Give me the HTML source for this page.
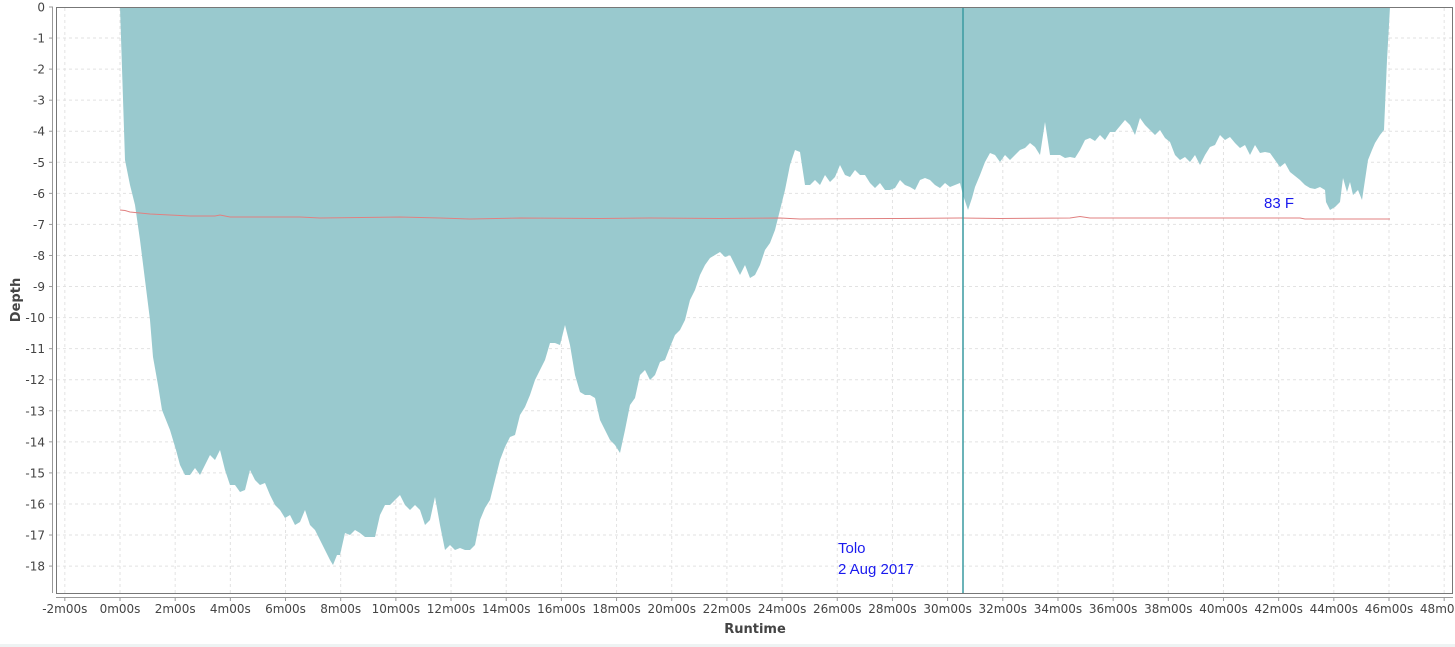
<!DOCTYPE html>
<html><head><meta charset="utf-8">
<style>
html,body{margin:0;padding:0;background:#fff;}
svg{display:block;font-family:"DejaVu Sans","Liberation Sans",sans-serif;}
</style></head>
<body>
<svg id="s" width="1455" height="647" viewBox="0 0 1455 647" xmlns="http://www.w3.org/2000/svg">
<rect x="0" y="0" width="1455" height="647" fill="#fff"/>
<rect x="0" y="644" width="1455" height="3" fill="#eef3f3"/>
<g id="grid"></g>
<polygon id="area" fill="#99c9ce" points=""/>
<polyline id="temp" fill="none" stroke="#e08080" stroke-width="1" points="120,210 125,210.5 130,212 140,213 150,214 170,215 190,216 215,216 220,215 230,217 300,217 320,218 400,217 440,218 470,219 520,218 600,218.5 650,218 720,218.5 780,218 800,219 900,218.5 960,218 1000,218.5 1070,218 1080,216.5 1090,218 1300,218 1305,219 1390,219"/>
<line x1="963" y1="7" x2="963" y2="593" stroke="#3a9aa0" stroke-width="1.5"/>
<rect x="56.5" y="7.5" width="1396" height="586" fill="none" stroke="#777" stroke-width="1"/>
<line x1="52.5" y1="7" x2="52.5" y2="593" stroke="#999"/>
<line x1="56" y1="597.5" x2="1453" y2="597.5" stroke="#999"/>
<g id="labels" font-size="12" fill="#444"></g>
<text x="838" y="553" font-size="15" fill="#1a1aee" font-family="Liberation Sans,sans-serif">Tolo</text>
<text x="838" y="574" font-size="15" fill="#1a1aee" font-family="Liberation Sans,sans-serif">2 Aug 2017</text>
<text x="1264" y="208" font-size="15" fill="#1a1aee" font-family="Liberation Sans,sans-serif">83 F</text>
<text x="755" y="633" font-size="13" font-weight="bold" fill="#444" text-anchor="middle">Runtime</text>
<text transform="translate(20,300) rotate(-90)" font-size="13" font-weight="bold" fill="#444" text-anchor="middle">Depth</text>
</svg>
<script>
var NS="http://www.w3.org/2000/svg";
var g=document.getElementById('grid'),L=document.getElementById('labels');
function el(p,t,a,txt){var e=document.createElementNS(NS,t);for(var k in a)e.setAttribute(k,a[k]);if(txt!=null)e.textContent=txt;p.appendChild(e);return e;}
for(var d=0;d<=18;d++){var y=7+d*31.06;
 if(d>0)el(g,'line',{x1:57,y1:y,x2:1452,y2:y,stroke:'#e2e2e2','stroke-dasharray':'3,3'});
 el(L,'text',{x:45,y:y+4.5,'text-anchor':'end'},d==0?'0':'-'+d);
 el(L,'line',{x1:49,y1:y,x2:53,y2:y,stroke:'#999'});}
for(var t=-2;t<=48;t+=2){var x=120+t*27.587;
 el(g,'line',{x1:x,y1:8,x2:x,y2:593,stroke:'#e2e2e2','stroke-dasharray':'3,3'});
 el(L,'line',{x1:x,y1:597,x2:x,y2:601,stroke:'#999'});
 el(L,'text',{x:x,y:613,'text-anchor':'middle'},t+'m00s');}
var pts="120,7 125,160 130,185 135,205 140,240 145,280 150,320 153,357 158,385 162,410 170,430 176,450 180,465 185,475 190,475 195,468 200,475 205,465 210,455 215,460 220,450 225,470 230,485 235,485 240,492 245,490 250,470 255,480 260,485 265,483 270,495 275,505 280,510 285,518 290,515 295,525 300,522 305,510 310,525 315,530 320,540 325,550 330,560 333,565 337,555 340,555 345,533 350,535 355,530 360,533 365,537 370,537 375,537 380,515 385,505 390,505 395,500 400,495 405,505 410,510 415,505 420,510 425,525 430,520 435,497 440,525 445,550 450,545 455,550 460,548 465,550 470,550 475,545 480,520 485,508 490,500 495,480 500,460 505,447 510,437 515,435 520,415 525,407 530,395 535,380 540,370 545,360 550,343 555,343 560,345 565,325 570,345 575,375 580,392 585,395 590,395 595,398 600,420 605,430 610,440 615,445 620,453 625,430 630,405 635,398 640,375 645,370 650,380 655,375 660,362 665,360 670,347 675,335 680,330 685,320 690,300 695,290 700,275 705,265 710,258 715,255 720,252 725,257 730,255 735,265 740,275 745,265 750,278 755,275 760,265 765,250 770,243 775,230 780,210 785,190 790,165 795,150 800,152 805,185 810,185 815,180 820,185 825,175 830,182 835,177 840,165 845,175 850,177 855,170 860,175 865,175 870,183 875,188 880,183 885,190 890,190 895,188 900,180 905,185 910,187 915,190 920,180 925,178 930,180 935,185 940,188 945,183 950,187 955,185 960,183 963,195 968,210 972,198 975,187 980,175 985,162 990,153 995,155 1000,162 1005,155 1010,160 1015,155 1020,150 1025,148 1030,143 1035,147 1040,155 1045,122 1050,155 1055,155 1060,155 1065,158 1070,157 1075,158 1080,150 1085,140 1090,138 1095,141 1100,135 1105,140 1110,132 1115,132 1120,126 1125,120 1130,125 1135,135 1140,118 1145,125 1150,130 1155,135 1160,130 1165,138 1170,142 1175,155 1180,160 1185,157 1190,162 1195,155 1200,165 1205,155 1210,147 1215,145 1220,135 1225,140 1230,137 1235,143 1240,148 1245,145 1250,155 1255,145 1260,153 1265,152 1270,153 1275,160 1280,167 1285,163 1290,172 1295,176 1300,180 1305,185 1310,188 1315,189 1320,187 1325,190 1326,202 1330,210 1335,207 1340,202 1343,178 1347,192 1350,182 1353,195 1358,190 1362,200 1365,180 1368,160 1372,150 1375,143 1380,135 1384,130 1387,60 1390,7";
document.getElementById('area').setAttribute('points',pts);
</script>
</body></html>
